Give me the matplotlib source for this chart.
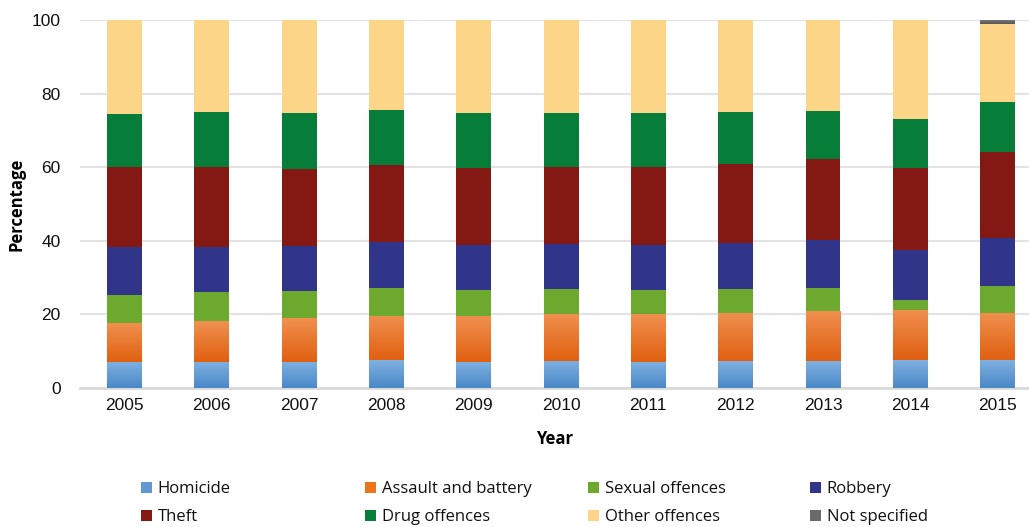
import matplotlib
matplotlib.use("Agg")
import matplotlib.pyplot as plt
import numpy as np
from matplotlib.colors import LinearSegmentedColormap
from matplotlib.patches import Patch

years = ["2005", "2006", "2007", "2008", "2009", "2010", "2011", "2012", "2013", "2014", "2015"]
homicide = [7.2, 7.2, 7.2, 7.5, 7.2, 7.4, 7.2, 7.3, 7.3, 7.6, 7.6]
assault = [10.4, 11.1, 11.8, 12.0, 12.5, 12.8, 13.0, 13.1, 13.6, 13.6, 12.9]
sexual = [7.7, 7.7, 7.4, 7.8, 7.0, 6.8, 6.5, 6.5, 6.3, 2.7, 7.2]
robbery = [12.9, 12.4, 12.3, 12.5, 12.2, 12.2, 12.2, 12.5, 13.0, 13.7, 13.1]
theft = [21.9, 21.7, 20.8, 20.7, 21.0, 20.9, 21.2, 21.5, 22.0, 22.3, 23.4]
drug = [14.4, 14.9, 15.3, 15.1, 14.9, 14.7, 14.7, 14.1, 13.1, 13.2, 13.5]
other = [25.5, 25.0, 25.2, 24.4, 25.2, 25.2, 25.2, 25.0, 24.7, 26.9, 21.2]
not_specified = [0, 0, 0, 0, 0, 0, 0, 0, 0, 0, 1.1]

series = [
    ("Homicide", homicide, "#5f98d4", ("#7fb0e0", "#4a88c8")),
    ("Assault and battery", assault, "#ec7519", ("#f0904f", "#e06010")),
    ("Sexual offences", sexual, "#6ea92f", None),
    ("Robbery", robbery, "#30358a", None),
    ("Theft", theft, "#841913", None),
    ("Drug offences", drug, "#067d38", None),
    ("Other offences", other, "#fdd589", None),
    ("Not specified", not_specified, "#6a6a6a", ("#808080", "#555555")),
]

W, H = 1029, 527
fig = plt.figure(figsize=(W / 100, H / 100), dpi=100)
ax = fig.add_axes([80 / W, 1 - 388 / H, 1 - 80 / W, (388 - 20) / H])

x = np.arange(len(years))
width = 0.40
bottom = np.zeros(len(years))
handles = []
for name, vals, color, grad in series:
    vals = np.array(vals, dtype=float)
    bars = ax.bar(x, vals, width=width, bottom=bottom, color=color, linewidth=0, zorder=2)
    if grad is not None:
        cmap = LinearSegmentedColormap.from_list(name, [grad[1], grad[0]])
        for b in bars:
            if b.get_height() <= 0:
                continue
            x0, y0 = b.get_x(), b.get_y()
            w, h = b.get_width(), b.get_height()
            img = ax.imshow(np.linspace(0, 1, 64).reshape(-1, 1), cmap=cmap, origin="lower",
                            extent=[x0, x0 + w, y0, y0 + h], aspect="auto", zorder=3,
                            interpolation="bilinear")
            img.set_clip_path(b)
    bottom += vals
    handles.append(Patch(facecolor=color, label=name))

ax.set_xlim(-0.51, 10.36)
ax.set_ylim(0, 100)
ax.set_yticks([0, 20, 40, 60, 80, 100])
ax.set_xticks(x)
ax.set_xticklabels(years)
ax.yaxis.grid(True, color="#e3e3e3", linewidth=1.5, zorder=0)
ax.set_axisbelow(True)
for s in ["top", "right", "left"]:
    ax.spines[s].set_visible(False)
ax.spines["bottom"].set_color("#d9d9d9")
ax.spines["bottom"].set_linewidth(2)
ax.spines["bottom"].set_zorder(1)
ax.tick_params(axis="both", length=0, labelsize=12.5, labelcolor="#111111",
               labelfontfamily="Liberation Sans")
ax.tick_params(axis="y", pad=14)
ax.tick_params(axis="x", pad=7)

ax.set_xlabel("Year", fontsize=12, fontweight="bold", family="Open Sans", labelpad=12.5)
ax.set_ylabel("Percentage", fontsize=12, fontweight="bold", family="Open Sans", labelpad=4)

col_x = [141, 365, 588, 810]
for ci in range(4):
    hs = [handles[ci], handles[ci + 4]]
    leg = fig.legend(hs, [h.get_label() for h in hs], ncol=1, loc="upper left",
                     bbox_to_anchor=(col_x[ci] / W, 1 - 481 / H), borderpad=0,
                     borderaxespad=0, frameon=False, handlelength=0.65, handleheight=0.65,
                     handletextpad=0.35, labelspacing=0.72,
                     prop={"family": "Open Sans", "size": 12})
    for t in leg.get_texts():
        t.set_color("#111111")

fig.savefig("out.png", dpi=100)
